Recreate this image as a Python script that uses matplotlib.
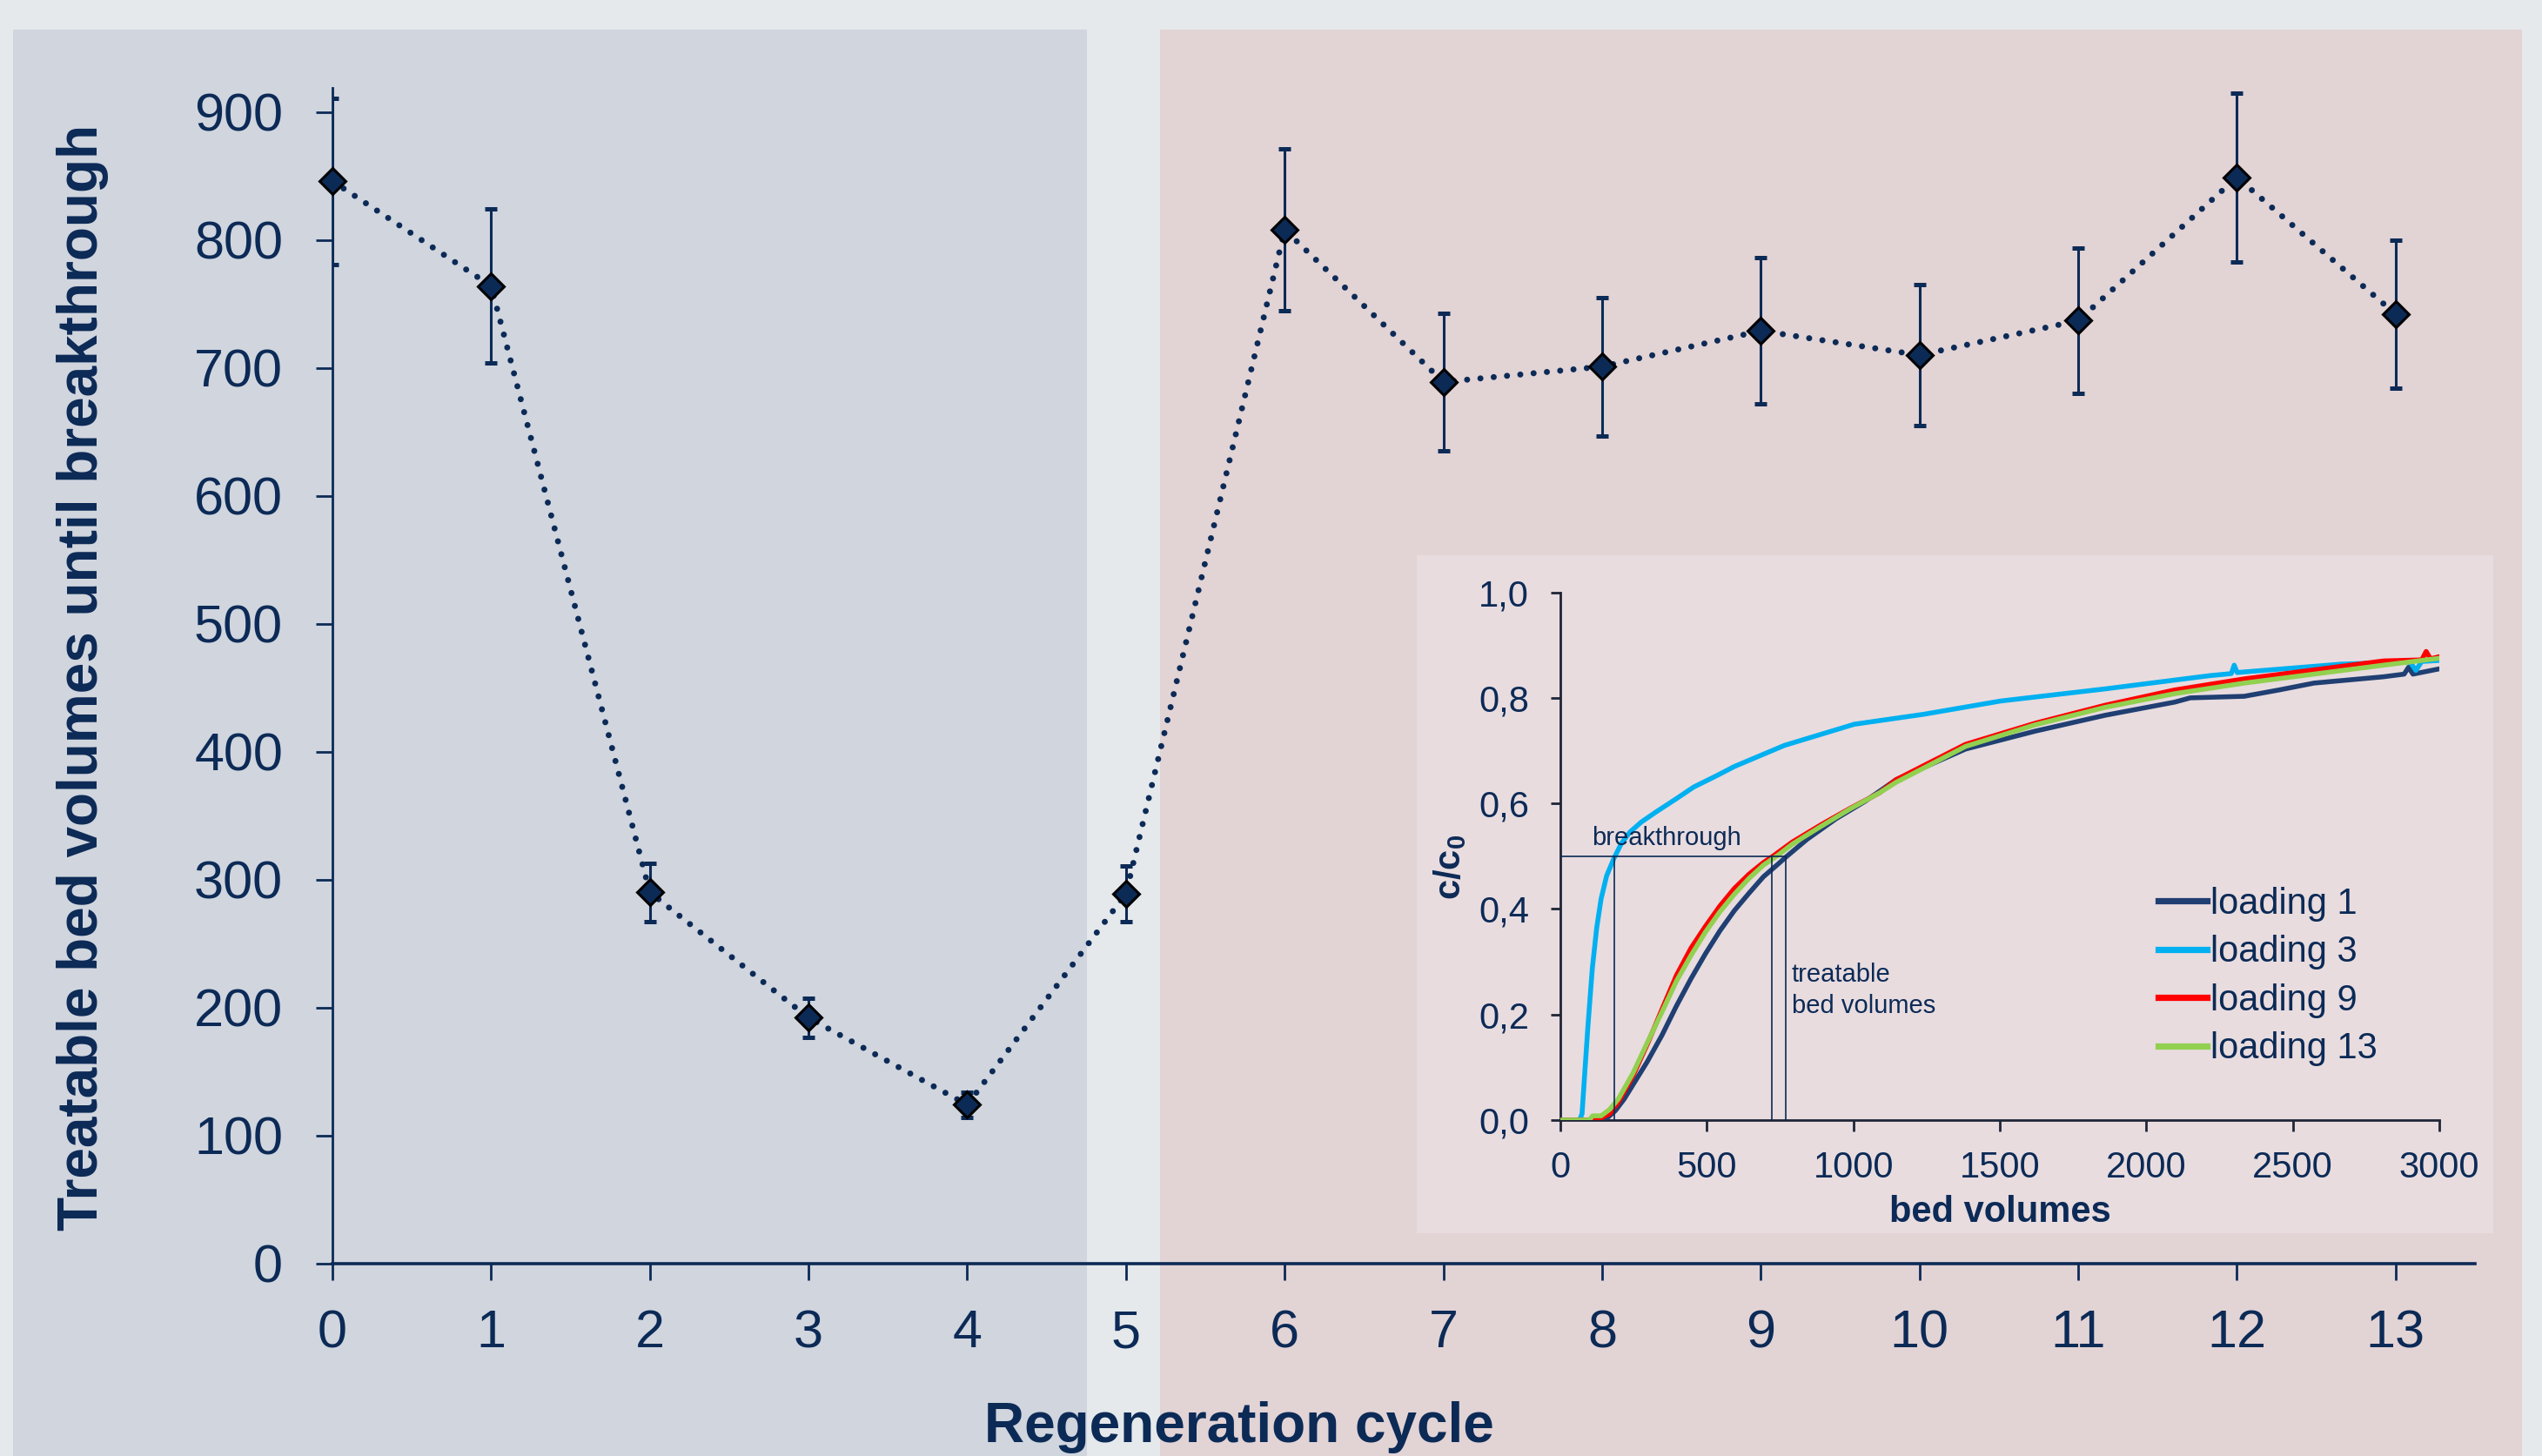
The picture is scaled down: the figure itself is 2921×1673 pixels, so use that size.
import matplotlib
matplotlib.use("Agg")
import matplotlib.pyplot as plt
from matplotlib.patches import Rectangle
from matplotlib.lines import Line2D

plt.rcParams['font.family'] = ['Liberation Sans', 'DejaVu Sans']
plt.rcParams['mathtext.fontset'] = 'custom'
plt.rcParams['mathtext.rm'] = 'Liberation Sans'
plt.rcParams['mathtext.bf'] = 'Liberation Sans:bold'

# ---------------- data ----------------
cycles = [0, 1, 2, 3, 4, 5, 6, 7, 8, 9, 10, 11, 12, 13]
bed_volumes = [846, 764, 290, 192, 124, 289, 808, 689, 701, 729, 710, 737, 849, 742]
bed_volumes_err = [65, 60, 23, 15, 10, 22, 63, 54, 54, 57, 55, 57, 66, 58]
main_yticks = [0, 100, 200, 300, 400, 500, 600, 700, 800, 900]

load1_x = [0, 130, 158, 188, 218, 248, 297, 347, 396, 446, 495, 545, 594, 644, 693, 743, 768,
           842, 941, 1040, 1146, 1383, 1621, 1859, 2097, 2150, 2334, 2453, 2572, 2810, 2880,
           2895, 2910, 3000]
load1_y = [0, 0, 0.003, 0.018, 0.04, 0.067, 0.111, 0.161, 0.216, 0.268, 0.315, 0.359, 0.397,
           0.43, 0.461, 0.485, 0.4975, 0.532, 0.571, 0.604, 0.645, 0.703, 0.737, 0.767, 0.792,
           0.800, 0.803, 0.815, 0.828, 0.840, 0.845, 0.858, 0.845, 0.855]

load3_x = [0, 60, 68, 74, 84, 94, 109, 124, 139, 158, 183, 208, 238, 277, 327, 396, 455, 535,
           594, 765, 1003, 1241, 1502, 1859, 2215, 2290, 2300, 2310, 2667, 2900, 2920, 2940, 3000]
load3_y = [0, 0, 0.003, 0.012, 0.095, 0.177, 0.287, 0.364, 0.419, 0.463, 0.496, 0.524, 0.546,
           0.565, 0.584, 0.609, 0.631, 0.653, 0.67, 0.71, 0.75, 0.769, 0.794, 0.817, 0.842,
           0.846, 0.862, 0.848, 0.864, 0.868, 0.852, 0.869, 0.871]

load9_x = [0, 99, 139, 168, 198, 248, 297, 347, 396, 446, 495, 545, 594, 644, 693, 723, 792,
           891, 990, 1089, 1146, 1383, 1621, 1859, 2097, 2334, 2572, 2810, 2940, 2955, 2970, 3000]
load9_y = [0, 0, 0.004, 0.012, 0.034, 0.084, 0.144, 0.21, 0.274, 0.326, 0.367, 0.406, 0.439,
           0.466, 0.488, 0.499, 0.527, 0.56, 0.591, 0.62, 0.645, 0.712, 0.752, 0.786, 0.815,
           0.836, 0.853, 0.870, 0.872, 0.888, 0.874, 0.878]

load13_x = [0, 99, 110, 139, 168, 198, 248, 297, 347, 396, 446, 495, 545, 594, 644, 693, 743,
            792, 891, 990, 1089, 1146, 1383, 1621, 1859, 2097, 2334, 2572, 2810, 3000]
load13_y = [0, 0, 0.008, 0.008, 0.02, 0.04, 0.089, 0.147, 0.205, 0.263, 0.312, 0.356, 0.395,
            0.428, 0.458, 0.483, 0.502, 0.523, 0.557, 0.59, 0.62, 0.640, 0.708, 0.749, 0.782,
            0.808, 0.828, 0.845, 0.862, 0.875]

loading_labels = ['loading 1', 'loading 3', 'loading 9', 'loading 13']
breakthrough_level = 0.5
breakthrough_bv = [183, 722, 768]
inset_xticks = [0, 500, 1000, 1500, 2000, 2500, 3000]
inset_yticks = [0.0, 0.2, 0.4, 0.6, 0.8, 1.0]
inset_yticklabels = ['0,0', '0,2', '0,4', '0,6', '0,8', '1,0']

# ---------------- style ----------------
NAVY = '#0c2a56'
C_L1 = '#203f72'
C_L3 = '#00b0f0'
C_L9 = '#ff0000'
C_L13 = '#92d050'

W, H = 2921, 1673
fig = plt.figure(figsize=(W / 200, H / 200), dpi=200)
fig.patch.set_facecolor('#e5e9ec')

def fx(px):
    return px / W

def fy(py):
    return 1 - py / H

# background panels
fig.add_artist(Rectangle((fx(15), 0), fx(1249) - fx(15), fy(34), transform=fig.transFigure,
                         facecolor='#d0d5de', edgecolor='none', zorder=-2))
fig.add_artist(Rectangle((fx(1333), 0), fx(2898) - fx(1333), fy(34), transform=fig.transFigure,
                         facecolor='#e2d3d5', edgecolor='none', zorder=-2))

# ---------------- main axes ----------------
ax = fig.add_axes([fx(382), fy(1451.7), fx(2844) - fx(382), fy(100.8) - fy(1451.7)])
ax.set_facecolor('none')
ax.set_zorder(0)
ax.set_xlim(0, 13.5)
ax.set_ylim(0, 919)
for s in ['top', 'right']:
    ax.spines[s].set_visible(False)
ax.spines['left'].set_color(NAVY)
ax.spines['left'].set_linewidth(1.0)
ax.spines['bottom'].set_color(NAVY)
ax.spines['bottom'].set_linewidth(1.3)
ax.set_xticks(cycles)
ax.set_yticks(main_yticks)
ax.tick_params(axis='both', direction='out', colors=NAVY, labelsize=22, width=1.0)
ax.tick_params(axis='x', length=7, pad=12)
ax.tick_params(axis='y', length=6.8, pad=13.7)

ax.plot(cycles, bed_volumes, color=NAVY, lw=2.5, linestyle=(0, (0.01, 2.2)),
        dash_capstyle='round', zorder=2)
ax.errorbar(cycles, bed_volumes, yerr=bed_volumes_err, fmt='none', ecolor=NAVY,
            elinewidth=1.1, capsize=2.5, capthick=1.8, zorder=3)
ax.plot(cycles, bed_volumes, linestyle='none', marker='D', ms=7.6, mfc=NAVY, mec='black',
        mew=1.1, clip_on=False, zorder=5)

fig.text(fx(1131), fy(1657), 'Regeneration cycle', ha='left', va='baseline',
         fontsize=23, fontweight='bold', color=NAVY)
fig.text(fx(112), fy(1414), 'Treatable bed volumes until breakthrough', rotation=90,
         rotation_mode='anchor', ha='left', va='baseline', fontsize=23,
         fontweight='bold', color=NAVY)

# ---------------- inset ----------------
fig.add_artist(Rectangle((fx(1628), fy(1417)), fx(2865) - fx(1628), fy(638) - fy(1417),
                         transform=fig.transFigure, facecolor='#e8dcdf', edgecolor='none',
                         zorder=0.5))
ax2 = fig.add_axes([fx(1793), fy(1287), fx(2803) - fx(1793), fy(680.6) - fy(1287)])
ax2.set_zorder(1)
ax2.set_facecolor('none')
ax2.set_xlim(0, 3000)
ax2.set_ylim(0, 1.0)
for s in ['top', 'right']:
    ax2.spines[s].set_visible(False)
for s in ['left', 'bottom']:
    ax2.spines[s].set_color('#1e2636')
    ax2.spines[s].set_linewidth(1.0)
ax2.set_xticks(inset_xticks)
ax2.set_xticklabels([str(v) for v in inset_xticks])
ax2.set_yticks(inset_yticks)
ax2.set_yticklabels(inset_yticklabels)
ax2.tick_params(axis='both', direction='out', color='#1e2636', labelcolor=NAVY,
                labelsize=15, width=1.0)
ax2.tick_params(axis='x', length=4.6, pad=8)
ax2.tick_params(axis='y', length=4.0, pad=9)

lw = 2.0
ax2.plot(load1_x, load1_y, color=C_L1, lw=lw, zorder=3)
ax2.plot(load3_x, load3_y, color=C_L3, lw=lw, zorder=3)
ax2.plot(load9_x, load9_y, color=C_L9, lw=lw, zorder=3)
ax2.plot(load13_x, load13_y, color=C_L13, lw=lw, zorder=3)

ax2.plot([0, max(breakthrough_bv)], [breakthrough_level, breakthrough_level], color=NAVY,
         lw=0.6, zorder=4)
ax2.vlines(breakthrough_bv, 0, breakthrough_level, color=NAVY, lw=0.6, zorder=4)
ax2.text(107, 0.521, 'breakthrough', fontsize=10.5, color=NAVY, ha='left', va='baseline')
ax2.text(790, 0.262, 'treatable', fontsize=10.5, color=NAVY, ha='left', va='baseline')
ax2.text(790, 0.203, 'bed volumes', fontsize=10.5, color=NAVY, ha='left', va='baseline')

ax2.set_xlabel('bed volumes', fontsize=15, fontweight='bold', color=NAVY, labelpad=4)
fig.text(fx(1666), fy(996), r'$\mathbf{c/c_0}$', rotation=90, ha='center', va='center',
         fontsize=15, color=NAVY)

handles = [Line2D([], [], color=c, lw=2.6) for c in [C_L1, C_L3, C_L9, C_L13]]
ax2.legend(handles, loading_labels, loc='upper left', bbox_to_anchor=(fx(2480), fy(1019)),
           bbox_transform=fig.transFigure, frameon=False, fontsize=15, handlelength=1.34,
           handletextpad=0.1, labelspacing=0.37, borderpad=0, borderaxespad=0,
           labelcolor=NAVY)

fig.savefig('out.png', dpi=200, facecolor=fig.get_facecolor())
